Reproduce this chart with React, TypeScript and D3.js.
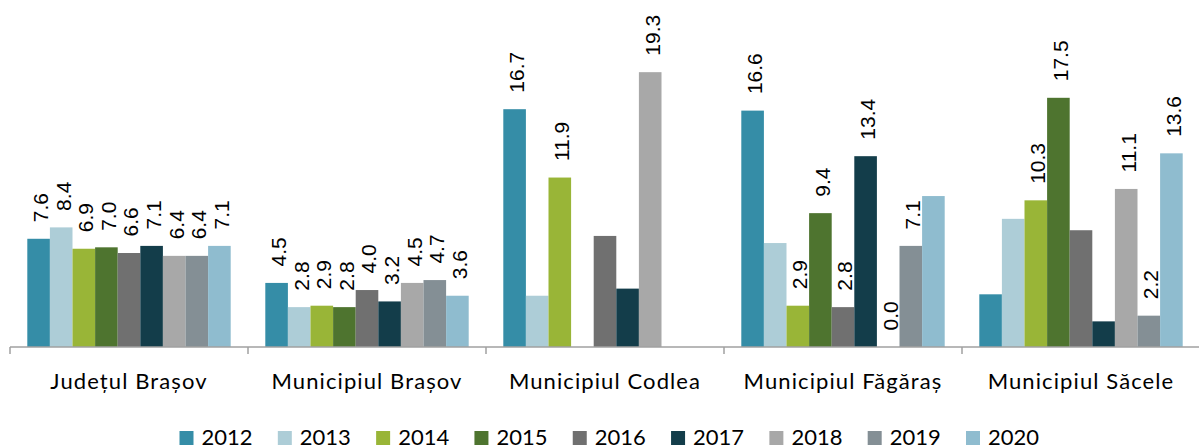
import React from "react";
import * as d3 from "d3";

const categories = [
  "Județul Brașov",
  "Municipiul Brașov",
  "Municipiul Codlea",
  "Municipiul Făgăraș",
  "Municipiul Săcele",
];

const years = ["2012", "2013", "2014", "2015", "2016", "2017", "2018", "2019", "2020"];

const v2012 = [7.6, 4.5, 16.7, 16.6, 3.7];
const v2013 = [8.4, 2.8, 3.6, 7.3, 9.0];
const v2014 = [6.9, 2.9, 11.9, 2.9, 10.3];
const v2015 = [7.0, 2.8, null, 9.4, 17.5];
const v2016 = [6.6, 4.0, 7.8, 2.8, 8.2];
const v2017 = [7.1, 3.2, 4.1, 13.4, 1.8];
const v2018 = [6.4, 4.5, 19.3, 0.0, 11.1];
const v2019 = [6.4, 4.7, null, 7.1, 2.2];
const v2020 = [7.1, 3.6, null, 10.6, 13.6];

// whether each value carries a data label (per series, per category)
const shown2012 = [true, true, true, true, false];
const shown2013 = [true, true, false, false, false];
const shown2014 = [true, true, true, true, true];
const shown2015 = [true, true, false, true, true];
const shown2016 = [true, true, false, true, false];
const shown2017 = [true, true, false, true, false];
const shown2018 = [true, true, true, true, true];
const shown2019 = [true, true, false, true, true];
const shown2020 = [true, true, false, false, true];

const seriesValues = [v2012, v2013, v2014, v2015, v2016, v2017, v2018, v2019, v2020];
const seriesShown = [shown2012, shown2013, shown2014, shown2015, shown2016, shown2017, shown2018, shown2019, shown2020];

const colors = [
  "#358DA7",
  "#ADCDD7",
  "#99B537",
  "#4E742F",
  "#707070",
  "#133D4A",
  "#A8A8A8",
  "#848F95",
  "#8FBCCF",
];

const W = 1199;
const H = 447;
const baseY = 347;
const left = 10;
const right = 1200;

export default function App() {
  const x0 = d3.scaleBand<string>().domain(categories).range([left, right]).padding(0);
  const gw = x0.bandwidth();
  const x1 = d3.scaleBand<string>().domain(years).range([17.3, gw - 17.3]).padding(0);
  const y = d3.scaleLinear().domain([0, 20]).range([baseY, baseY - 284.8]);

  const legendX = d3.scalePoint<string>().domain(years).range([179.5, 966]);

  return (
    <svg
      width={W}
      height={H}
      style={{ position: "absolute", left: 0, top: 0 }}
      xmlns="http://www.w3.org/2000/svg"
    >
      <rect x={0} y={0} width={W} height={H} fill="#fff" />
      {categories.map((c, ci) => (
        <g key={c} transform={`translate(${x0(c)},0)`}>
          {years.map((yr, si) => {
            const v = seriesValues[si][ci];
            if (v === null || v === undefined) return null;
            const bx = x1(yr)!;
            const by = y(v);
            return (
              <rect
                key={yr}
                x={bx}
                y={by}
                width={x1.bandwidth()}
                height={baseY - by}
                fill={colors[si]}
              />
            );
          })}
          {years.map((yr, si) => {
            const v = seriesValues[si][ci];
            if (v === null || v === undefined || !seriesShown[si][ci]) return null;
            const cx = x1(yr)! + x1.bandwidth() / 2 + 2;
            const ty = y(v) - 16.5;
            return (
              <text
                key={"l" + yr}
                transform={`translate(${cx},${ty}) rotate(-90)`}
                dy="0.35em"
                textAnchor="start"
                fontFamily="'Liberation Sans', Arial, sans-serif"
                fontSize={21}
                fill="#000"
              >
                {d3.format(".1f")(v)}
              </text>
            );
          })}
          <text
            x={gw / 2}
            y={389}
            textAnchor="middle"
            fontFamily="Lato, sans-serif"
            fontSize={22}
            letterSpacing={1.1}
            fill="#000"
          >
            {c}
          </text>
        </g>
      ))}
      <line x1={left} x2={right} y1={baseY} y2={baseY} stroke="#A0A0A0" strokeWidth={1.5} />
      {d3.range(categories.length + 1).map((i) => {
        const tx = left + i * gw;
        return <line key={i} x1={tx} x2={tx} y1={baseY} y2={baseY + 7} stroke="#A0A0A0" strokeWidth={1.5} />;
      })}
      {years.map((yr, si) => (
        <g key={yr} transform={`translate(${legendX(yr)},0)`}>
          <rect x={0} y={431} width={14} height={14} fill={colors[si]} />
          <text x={22} y={445} fontFamily="Lato, sans-serif" fontSize={22} fill="#000">
            {yr}
          </text>
        </g>
      ))}
    </svg>
  );
}
